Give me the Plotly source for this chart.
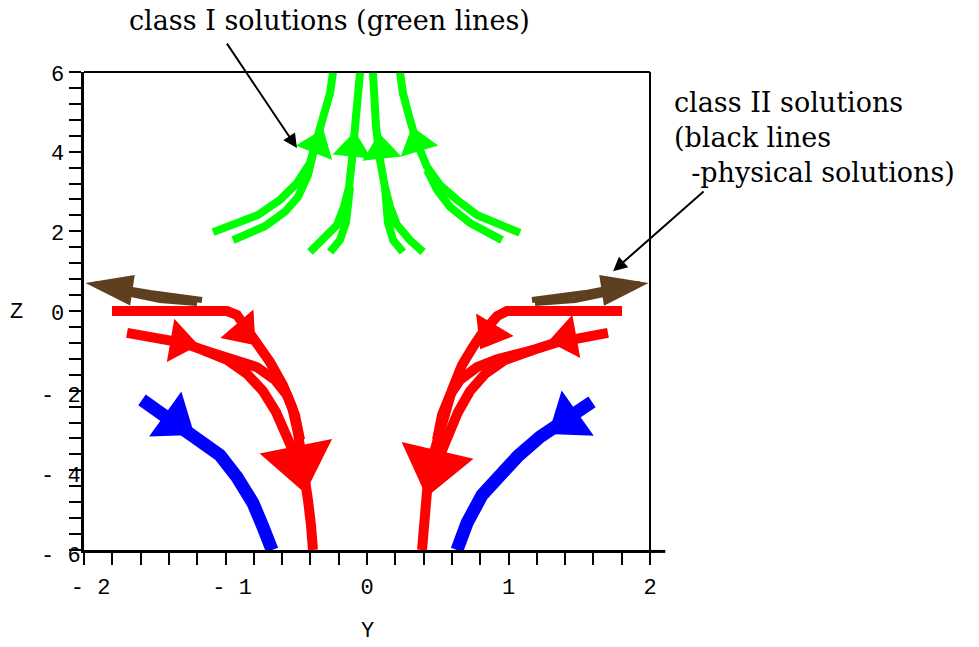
import plotly.graph_objects as go

# ---------------- data (Y = horizontal, Z = vertical) ----------------
# class I streamlines (green)
green_y = [
    [-1.088, -0.770, -0.615, -0.495, -0.403, -0.353, -0.311, -0.261, -0.240],
    [-0.947, -0.721, -0.580, -0.488, -0.417, -0.375],
    [-0.403, -0.311, -0.212, -0.163, -0.127, -0.106, -0.085, -0.064, -0.049],
    [-0.261, -0.191, -0.148, -0.127, -0.120],
    [0.396, 0.304, 0.212, 0.163, 0.127, 0.092, 0.064, 0.049, 0.042],
    [0.254, 0.184, 0.148, 0.134, 0.127],
    [1.081, 0.777, 0.636, 0.516, 0.424, 0.353, 0.304, 0.254, 0.233],
    [0.954, 0.728, 0.587, 0.495, 0.424],
]
green_z = [
    [1.98, 2.41, 2.79, 3.21, 3.72, 4.29, 4.80, 5.47, 6.0],
    [1.78, 2.13, 2.49, 2.86, 3.41, 4.04],
    [1.48, 1.78, 2.16, 2.61, 3.11, 3.79, 4.62, 5.47, 6.0],
    [1.48, 1.78, 2.23, 2.79, 3.11],
    [1.48, 1.78, 2.16, 2.61, 3.11, 3.79, 4.62, 5.47, 6.0],
    [1.48, 1.78, 2.23, 2.79, 3.11],
    [1.96, 2.41, 2.79, 3.16, 3.62, 4.22, 4.80, 5.47, 6.0],
    [1.78, 2.21, 2.61, 3.04, 3.54],
]
green_arrow_y = [-0.353, -0.099, 0.099, 0.353]
green_arrow_z = [4.17, 4.09, 4.04, 4.22]
green_from_y = [-0.438, -0.120, 0.120, 0.410]
green_from_z = [3.41, 3.41, 3.36, 3.54]

# red streamlines
red_y = [
    [-1.802, -1.463, -1.180, -0.989, -0.919, -0.876, -0.827, -0.777, -0.686, -0.594,
     -0.530, -0.488, -0.459, -0.438, -0.417, -0.396, -0.382],
    [-1.696, -1.498, -1.300, -1.159, -0.989, -0.848, -0.735, -0.643, -0.572, -0.509, -0.459],
    [-1.159, -0.919, -0.777, -0.650, -0.565, -0.509, -0.473],
    [1.802, 1.505, 1.223, 0.989, 0.919, 0.862, 0.806, 0.749, 0.671, 0.601,
     0.544, 0.495, 0.459, 0.431, 0.410, 0.396, 0.389],
    [1.703, 1.505, 1.329, 1.173, 0.975, 0.834, 0.728, 0.643, 0.572, 0.516, 0.466],
    [1.173, 0.919, 0.777, 0.657, 0.587, 0.530, 0.495],
]
red_z = [
    [0.0, 0.0, 0.0, 0.0, -0.10, -0.30, -0.53, -0.78, -1.28, -1.86,
     -2.41, -3.06, -3.62, -4.19, -4.75, -5.37, -6.0],
    [-0.55, -0.68, -0.80, -0.98, -1.23, -1.58, -2.01, -2.54, -3.11, -3.62, -4.19],
    [-0.98, -1.21, -1.41, -1.73, -2.11, -2.61, -3.24],
    [0.0, 0.0, 0.0, 0.0, -0.13, -0.35, -0.60, -0.90, -1.36, -1.98,
     -2.61, -3.24, -3.74, -4.24, -4.87, -5.45, -6.0],
    [-0.55, -0.68, -0.80, -0.98, -1.23, -1.58, -2.01, -2.54, -3.11, -3.62, -4.19],
    [-0.98, -1.21, -1.41, -1.73, -2.11, -2.61, -3.24],
]
red_arrow_y = [-0.876, -1.322, -0.481, 0.869, 1.413, 0.473]
red_arrow_z = [-0.50, -0.78, -3.79, -0.55, -0.68, -3.89]
red_from_y = [-0.954, -1.534, -0.516, 0.940, 1.611, 0.516]
red_from_z = [-0.18, -0.65, -3.16, -0.13, -0.55, -3.24]
red_arrow_big = [False, False, True, False, False, True]

# blue streamlines
blue_y = [
    [-1.590, -1.357, -1.194, -1.039, -0.919, -0.806, -0.735, -0.671],
    [1.590, 1.364, 1.223, 1.067, 0.940, 0.813, 0.707, 0.636],
]
blue_z = [
    [-2.23, -2.79, -3.19, -3.62, -4.17, -4.82, -5.42, -6.0],
    [-2.28, -2.81, -3.16, -3.64, -4.19, -4.62, -5.32, -6.0],
]
blue_arrow_y = [-1.357, 1.420]
blue_arrow_z = [-2.76, -2.74]
blue_from_y = [-1.534, 1.590]
blue_from_z = [-2.31, -2.31]

# class II streamlines (brown)
brown_y = [
    [-1.166, -1.357, -1.534, -1.745, -1.922],
    [-1.201, -1.463, -1.675],
    [1.166, 1.364, 1.541, 1.731, 1.929],
    [1.187, 1.470, 1.682],
]
brown_z = [
    [0.276, 0.35, 0.45, 0.58, 0.68],
    [0.20, 0.276, 0.43],
    [0.276, 0.35, 0.45, 0.58, 0.68],
    [0.20, 0.276, 0.43],
]
brown_arrow_y = [-1.99, 1.99]
brown_arrow_z = [0.70, 0.70]
brown_from_y = [-1.710, 1.717]
brown_from_z = [0.55, 0.55]

x_tick_vals = [-2, -1, 0, 1, 2]
x_tick_text = ["\u00a0- 2", "\u00a0- 1", "0", "1", "2"]
z_tick_vals = [-6, -4, -2, 0, 2, 4, 6]
z_tick_text = ["- 6", "- 4", "- 2", "0", "2", "4", "6"]

# ---------------- styles ----------------
GREEN = "#00FF00"
RED = "#FF0000"
BLUE = "#0000FF"
BROWN = "#5E4020"
MONO = "Liberation Mono, Courier New, monospace"
SERIF = "DejaVu Serif, serif"

fig = go.Figure()


def add_lines(ys, zs, color, width):
    for yy, zz in zip(ys, zs):
        fig.add_trace(go.Scatter(x=yy, y=zz, mode="lines",
                                 line=dict(color=color, width=width),
                                 hoverinfo="skip"))


def add_heads(ay, az, fy, fz, color, sizes, symbol="triangle-up"):
    for i in range(len(ay)):
        fig.add_trace(go.Scatter(
            x=[fy[i], ay[i]], y=[fz[i], az[i]], mode="markers",
            marker=dict(symbol=symbol, size=[0, sizes[i]], angleref="previous",
                        color=color, opacity=1, line=dict(width=0)),
            hoverinfo="skip"))


add_lines(brown_y, brown_z, BROWN, 6)
add_heads(brown_arrow_y, brown_arrow_z, brown_from_y, brown_from_z, BROWN, [50, 50], "arrow")
add_lines(green_y, green_z, GREEN, 8)
add_heads(green_arrow_y, green_arrow_z, green_from_y, green_from_z, GREEN, [34] * 4)
add_lines(red_y, red_z, RED, 10)
add_heads(red_arrow_y, red_arrow_z, red_from_y, red_from_z, RED,
          [64 if b else 38 for b in red_arrow_big])
add_lines(blue_y, blue_z, BLUE, 13)
add_heads(blue_arrow_y, blue_arrow_z, blue_from_y, blue_from_z, BLUE, [48, 48])

axis_common = dict(showgrid=False, zeroline=False, showline=True, linecolor="black",
                   linewidth=3, ticks="outside", ticklen=12, tickwidth=2,
                   tickcolor="black", tickmode="array",
                   tickfont=dict(family=MONO, size=22, color="black"),
                   fixedrange=True)

# Z tick labels (Maple-style placement: negatives overlap the ticks)
z_label_annotations = []
for v, t in zip(z_tick_vals, z_tick_text):
    neg = t.startswith("-")
    z_label_annotations.append(dict(
        text=t, xref="paper", yref="y", x=(-0.0018 if neg else -0.0318), y=v,
        xanchor="right", yanchor="middle", yshift=(-6 if neg else -3), showarrow=False,
        font=dict(family=MONO, size=22, color="black")))

fig.update_layout(
    width=979, height=647,
    margin=dict(l=84, r=329, t=72, b=97),
    paper_bgcolor="white", plot_bgcolor="white",
    showlegend=False,
    xaxis=dict(range=[-2, 2], tickvals=x_tick_vals, ticktext=x_tick_text,
               ticklabelstandoff=3,
               minor=dict(dtick=0.2, tick0=0, ticks="outside", ticklen=12,
                          tickwidth=2, tickcolor="black"),
               **axis_common),
    yaxis=dict(range=[-6, 6], tickvals=z_tick_vals, showticklabels=False,
               minor=dict(dtick=0.4, tick0=0, ticks="outside", ticklen=12,
                          tickwidth=2, tickcolor="black"),
               **axis_common),
    shapes=[
        dict(type="line", xref="paper", yref="paper", x0=0, x1=1, y0=1, y1=1,
             line=dict(color="black", width=2)),
        dict(type="line", xref="paper", yref="paper", x0=1, x1=1, y0=0, y1=1,
             line=dict(color="black", width=2)),
        dict(type="line", xref="paper", yref="paper", x0=1, x1=1.027, y0=-0.003, y1=-0.003,
             line=dict(color="black", width=3)),
    ],
    annotations=z_label_annotations + [
        dict(text="Y", xref="x", yref="paper", x=0, y=-0.1695, showarrow=False,
             xanchor="center", yanchor="middle", font=dict(family=MONO, size=22, color="black")),
        dict(text="Z", xref="paper", yref="y", x=-0.1184, y=-0.05, showarrow=False,
             xanchor="center", yanchor="middle", font=dict(family=MONO, size=22, color="black")),
        dict(text="class I solutions (green lines)", xref="paper", yref="paper",
             x=0.4346, y=1.107, showarrow=False, xanchor="center", yanchor="middle",
             font=dict(family=SERIF, size=27, color="black")),
        dict(text="class II solutions<br>(black lines<br>\u00a0\u00a0-physical solutions)",
             xref="paper", yref="paper", x=1.039, y=0.862, showarrow=False,
             xanchor="left", yanchor="middle", align="left",
             font=dict(family=SERIF, size=27, color="black")),
        dict(text="", x=-0.495, y=4.09, xref="x", yref="y", ax=-71, ay=-106,
             showarrow=True, arrowhead=2, arrowsize=1.4, arrowwidth=2, arrowcolor="black"),
        dict(text="", x=1.739, y=1.00, xref="x", yref="y", ax=92, ay=-81,
             showarrow=True, arrowhead=2, arrowsize=1.4, arrowwidth=2, arrowcolor="black"),
    ],
)

fig.write_html("out.html")
